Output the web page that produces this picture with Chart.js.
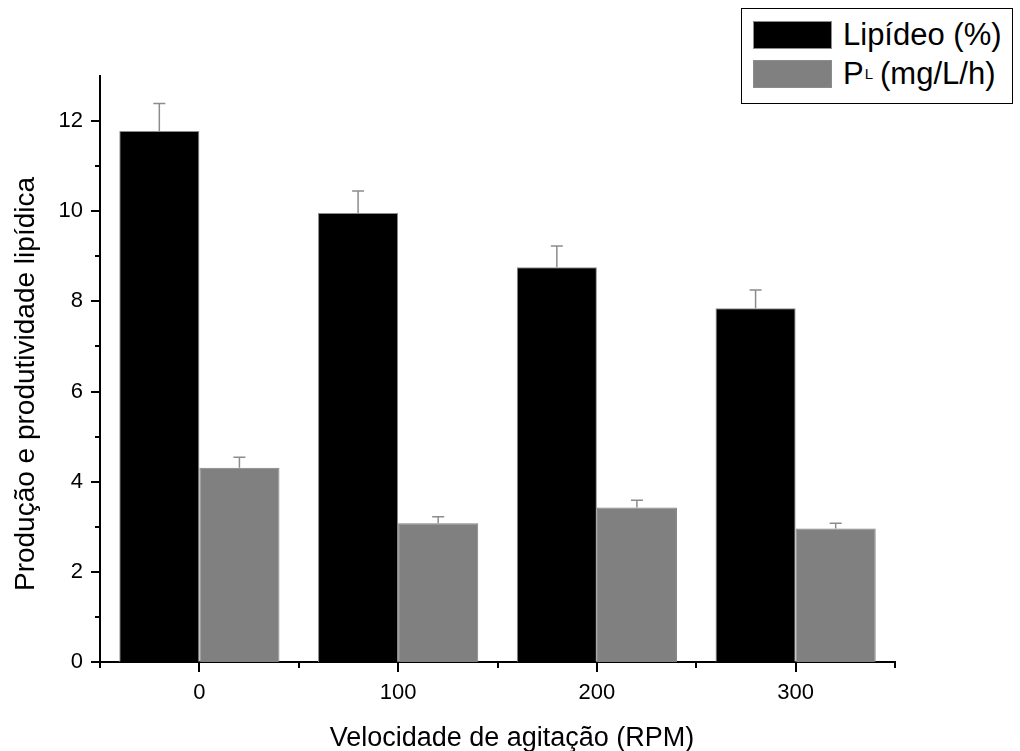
<!DOCTYPE html>
<html>
<head>
<meta charset="utf-8">
<script src="https://cdn.jsdelivr.net/npm/chart.js@4"></script>
<style>
body { margin: 0; background: #fff; }
#wrap { position: relative; width: 1020px; height: 751px; font-family: 'Liberation Sans', Arial, sans-serif; color: #000; }
#legend {
    position: absolute; left: 741px; top: 8px; width: 272px; height: 96px;
    border: 1px solid #000; box-sizing: border-box; background: #fff;
    font-size: 31px;
}
.row { position: absolute; left: 11px; display: flex; align-items: center; height: 29px; white-space: nowrap; }
.sw { width: 79px; height: 28px; margin-right: 11px; box-sizing: border-box; }
sub { font-size: 15px; vertical-align: -10px; margin: 0 7px 0 1px; }
.axtitle { position: absolute; white-space: nowrap; text-align: center; }
#ytitle { width: 600px; height: 28px; line-height: 28px; font-size: 28px; left: -274.7px; top: 370px; transform: rotate(-90deg); }
#xtitle { width: 600px; height: 27px; line-height: 27px; font-size: 27px; left: 212px; top: 724px; }
</style>
</head>
<body>
<div id="wrap">
    <canvas id="chart" width="1020" height="751"></canvas>
    <div id="ytitle" class="axtitle">Produção e produtividade lipídica</div>
    <div id="xtitle" class="axtitle">Velocidade de agitação (RPM)</div>
    <div id="legend">
        <div class="row" style="top:11px"><div class="sw" style="background:#000;border:1px solid #8c8c8c"></div>Lipídeo (%)</div>
        <div class="row" style="top:50px"><div class="sw" style="background:#808080;border:1px solid #8c8c8c"></div>P<sub>L</sub>(mg/L/h)</div>
    </div>
</div>
<script>
const categories = ['0', '100', '200', '300'];
const lipidValues = [11.78, 9.96, 8.76, 7.85];
const lipidErrors = [0.61, 0.49, 0.47, 0.40];
const prodValues = [4.31, 3.08, 3.43, 2.96];
const prodErrors = [0.23, 0.14, 0.16, 0.12];
const yTicks = [0, 2, 4, 6, 8, 10, 12];
const yMinorTicks = [1, 3, 5, 7, 9, 11];

const FONT = "'Liberation Sans', Arial, sans-serif";

// error bars on top of each bar
const errorBars = {
    id: 'errorBars',
    afterDatasetsDraw(chart) {
        const ctx = chart.ctx;
        const y = chart.scales.y;
        chart.data.datasets.forEach((ds, i) => {
            chart.getDatasetMeta(i).data.forEach((bar, j) => {
                const top = y.getPixelForValue(ds.data[j] + ds.errors[j]);
                ctx.save();
                ctx.strokeStyle = '#8c8c8c';
                ctx.lineWidth = 1.5;
                ctx.beginPath();
                ctx.moveTo(bar.x, bar.y);
                ctx.lineTo(bar.x, top);
                ctx.moveTo(bar.x - 6, top);
                ctx.lineTo(bar.x + 6, top);
                ctx.stroke();
                ctx.restore();
            });
        });
    }
};

// axis tick marks (major + minor)
const axisTicks = {
    id: 'axisTicks',
    afterDraw(chart) {
        const ctx = chart.ctx;
        const x = chart.scales.x, y = chart.scales.y;
        const area = chart.chartArea;
        ctx.save();
        ctx.strokeStyle = '#000';
        ctx.lineWidth = 2;
        ctx.beginPath();
        yTicks.forEach(v => {
            const py = Math.round(y.getPixelForValue(v));
            ctx.moveTo(area.left - 9, py);
            ctx.lineTo(area.left, py);
        });
        yMinorTicks.forEach(v => {
            const py = Math.round(y.getPixelForValue(v));
            ctx.moveTo(area.left - 5, py);
            ctx.lineTo(area.left, py);
        });
        categories.forEach((c, i) => {
            const px = Math.round(x.getPixelForValue(i));
            ctx.moveTo(px, area.bottom);
            ctx.lineTo(px, area.bottom + 10);
        });
        for (let i = 0; i <= categories.length; i++) {
            const px = Math.round(x.getPixelForValue(i - 0.5));
            ctx.moveTo(px, area.bottom);
            ctx.lineTo(px, area.bottom + 6);
        }
        ctx.stroke();
        ctx.restore();
    }
};

new Chart(document.getElementById('chart').getContext('2d'), {
    type: 'bar',
    data: {
        labels: categories,
        datasets: [{
            label: 'Lipídeo (%)',
            data: lipidValues,
            errors: lipidErrors,
            backgroundColor: '#000000',
            borderColor: '#8c8c8c',
            borderWidth: 1,
            categoryPercentage: 0.806,
            barPercentage: 1.0
        }, {
            label: 'PL (mg/L/h)',
            data: prodValues,
            errors: prodErrors,
            backgroundColor: '#808080',
            borderColor: '#808080',
            borderWidth: 1,
            categoryPercentage: 0.806,
            barPercentage: 1.0
        }]
    },
    options: {
        responsive: false,
        animation: false,
        layout: { padding: { top: 76, right: 125, bottom: 0, left: 0 } },
        plugins: {
            legend: { display: false },
            tooltip: { enabled: false }
        },
        scales: {
            x: {
                grid: { display: false },
                border: { display: true, color: '#000', width: 2 },
                ticks: { color: '#000', font: { family: FONT, size: 22 }, padding: 10 },
                afterFit(scale) { scale.height = 89; }
            },
            y: {
                min: 0,
                max: 13,
                grid: { display: false },
                border: { display: true, color: '#000', width: 2 },
                ticks: { color: '#000', font: { family: FONT, size: 22 }, padding: 9 },
                afterBuildTicks(scale) { scale.ticks = yTicks.map(v => ({ value: v })); },
                afterFit(scale) { scale.width = 100; }
            }
        }
    },
    plugins: [errorBars, axisTicks]
});
</script>
</body>
</html>
